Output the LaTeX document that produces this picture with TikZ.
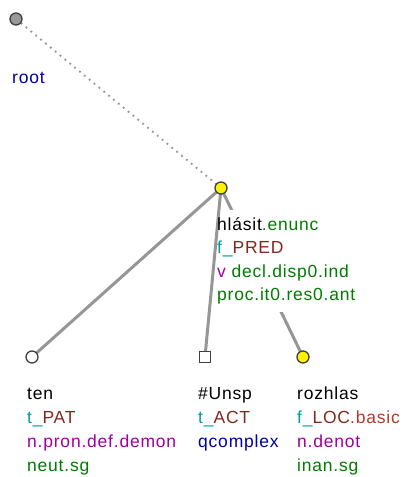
\documentclass[tikz,border=0pt]{standalone}
\usepackage{fontspec}
\setmainfont[LetterSpace=4.5]{Liberation Sans}
\definecolor{cteal}{RGB}{0,155,155}
\definecolor{cfunc}{RGB}{130,40,30}
\definecolor{cfsub}{RGB}{175,60,45}
\definecolor{cpurp}{RGB}{160,0,160}
\definecolor{cgreen}{RGB}{0,125,0}
\definecolor{cblue}{RGB}{0,0,160}
\definecolor{cedge}{RGB}{150,150,150}
\tikzset{
  lbl/.style={anchor=base west, inner sep=0pt, font=\fontsize{17.5}{20}\selectfont},
  edgeline/.style={draw=cedge, line width=3pt},
  rootedge/.style={draw=cedge, line width=1.8pt, dash pattern=on 1.8pt off 4.5pt},
  tnode/.style={circle, draw=black!75, line width=1.3pt, minimum size=12pt, inner sep=0pt},
  qnode/.style={rectangle, draw=black!75, line width=1.3pt, minimum size=11.5pt, inner sep=0pt, fill=white},
}
\begin{document}
\begin{tikzpicture}[x=1pt,y=-1pt]
\useasboundingbox (0,0) rectangle (406,477);
% node positions
\coordinate (pr) at (16,19);
\coordinate (ph) at (221,188);
\coordinate (pt) at (32,357);
\coordinate (pu) at (205,357);
\coordinate (pz) at (303,357);
% edges
\draw[rootedge] (pr) -- (ph);
\draw[edgeline] (ph) -- (pz);
% white background behind hlasit label
\fill[white] (216,210) rectangle (362,312);
\draw[edgeline] (ph) -- (pt);
\draw[edgeline] (ph) -- (pu);
% nodes
\node[tnode, fill=black!40] (root) at (pr) {};
\node[tnode, fill=yellow] (hlasit) at (ph) {};
\node[tnode, fill=white] (ten) at (pt) {};
\node[qnode] (unsp) at (pu) {};
\node[tnode, fill=yellow] (rozhlas) at (pz) {};
% labels
\node[lbl] (l0) at (12,83) {\textcolor{cblue}{root}};
\node[lbl] (h1) at (217,230) {hlásit\textcolor{cgreen}{.enunc}};
\node[lbl] (h2) at (217,253.5) {\textcolor{cteal}{f\_}\textcolor{cfunc}{PRED}};
\node[lbl] (h3) at (217,277) {\textcolor{cpurp}{v} \textcolor{cgreen}{decl.disp0.ind}};
\node[lbl] (h4) at (217,300.5) {\textcolor{cgreen}{proc.it0.res0.ant}};
\node[lbl] (t1) at (27,399.5) {ten};
\node[lbl] (t2) at (27,423.3) {\textcolor{cteal}{t\_}\textcolor{cfunc}{PAT}};
\node[lbl] (t3) at (27,447) {\textcolor{cpurp}{n.pron.def.demon}};
\node[lbl] (t4) at (27,471) {\textcolor{cgreen}{neut.sg}};
\node[lbl] (u1) at (198,399.5) {\#Unsp};
\node[lbl] (u2) at (198,423.3) {\textcolor{cteal}{t\_}\textcolor{cfunc}{ACT}};
\node[lbl] (u3) at (198,447) {\textcolor{cblue}{qcomplex}};
\node[lbl] (z1) at (297,399.5) {rozhlas};
\node[lbl] (z2) at (297,423.3) {\textcolor{cteal}{f\_}\textcolor{cfunc}{LOC}\textcolor{cfsub}{.basic}};
\node[lbl] (z3) at (297,447) {\textcolor{cpurp}{n.denot}};
\node[lbl] (z4) at (297,471) {\textcolor{cgreen}{inan.sg}};
\end{tikzpicture}
\end{document}
